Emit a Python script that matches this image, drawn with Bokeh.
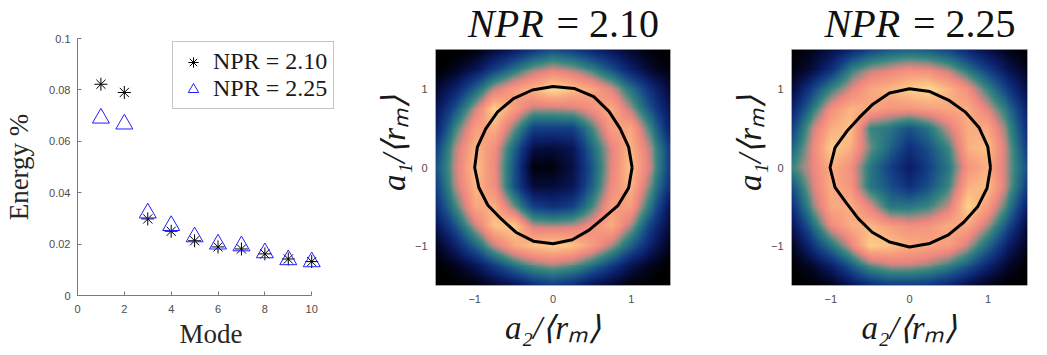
import numpy as np
from bokeh.plotting import figure
from bokeh.layouts import row
from bokeh.models import (Range1d, FixedTicker, CustomJSTickFormatter, LinearColorMapper,
                          Label, Legend, LegendItem)
from bokeh.embed import file_html
from bokeh.resources import INLINE

# ---------------- data ----------------
modes = [1, 2, 3, 4, 5, 6, 7, 8, 9, 10]
energy_210 = [0.0822, 0.0790, 0.0298, 0.0250, 0.0213, 0.0189, 0.0181, 0.0162, 0.0142, 0.0132]
energy_225 = [0.0690, 0.0667, 0.0321, 0.0272, 0.0228, 0.0200, 0.0193, 0.0166, 0.0139, 0.0131]
series_labels = ["NPR = 2.10", "NPR = 2.25"]

x_ticks_mode = [0, 2, 4, 6, 8, 10]
y_ticks_energy = [0, 0.02, 0.04, 0.06, 0.08, 0.1]
map_ticks = [-1, 0, 1]

# field nodes at -1.5 .. 1.5 step 0.25 ; rows listed from top (a1 = 1.5) to bottom (a1 = -1.5)
grid_nodes = [-1.5, -1.25, -1.0, -0.75, -0.5, -0.25, 0.0, 0.25, 0.5, 0.75, 1.0, 1.25, 1.5]

field_210 = [
    [0.00, 0.00, 0.02, 0.10, 0.18, 0.28, 0.35, 0.30, 0.22, 0.15, 0.08, 0.02, 0.00],
    [0.00, 0.05, 0.15, 0.30, 0.45, 0.58, 0.65, 0.60, 0.50, 0.35, 0.20, 0.08, 0.02],
    [0.08, 0.20, 0.40, 0.62, 0.75, 0.82, 0.92, 0.85, 0.78, 0.65, 0.45, 0.25, 0.10],
    [0.15, 0.35, 0.62, 0.90, 0.75, 0.60, 0.60, 0.62, 0.70, 0.80, 0.60, 0.35, 0.15],
    [0.20, 0.50, 0.75, 0.80, 0.55, 0.30, 0.30, 0.30, 0.50, 0.75, 0.78, 0.50, 0.20],
    [0.30, 0.60, 0.82, 0.70, 0.40, 0.12, 0.10, 0.15, 0.40, 0.65, 0.82, 0.60, 0.30],
    [0.35, 0.62, 0.85, 0.68, 0.35, 0.02, 0.02, 0.12, 0.35, 0.65, 0.85, 0.62, 0.30],
    [0.30, 0.60, 0.82, 0.70, 0.35, 0.10, 0.10, 0.15, 0.38, 0.68, 0.82, 0.55, 0.25],
    [0.25, 0.50, 0.78, 0.80, 0.55, 0.30, 0.25, 0.30, 0.50, 0.75, 0.75, 0.45, 0.15],
    [0.15, 0.35, 0.62, 0.85, 0.88, 0.62, 0.60, 0.62, 0.70, 0.80, 0.60, 0.30, 0.10],
    [0.05, 0.20, 0.40, 0.62, 0.78, 0.85, 0.88, 0.85, 0.75, 0.60, 0.40, 0.20, 0.05],
    [0.00, 0.05, 0.15, 0.30, 0.45, 0.55, 0.60, 0.55, 0.45, 0.30, 0.15, 0.05, 0.00],
    [0.00, 0.00, 0.02, 0.08, 0.15, 0.25, 0.30, 0.25, 0.15, 0.08, 0.02, 0.00, 0.00],
]

field_225 = [
    [0.00, 0.05, 0.12, 0.22, 0.32, 0.38, 0.40, 0.38, 0.32, 0.22, 0.12, 0.05, 0.00],
    [0.02, 0.10, 0.25, 0.48, 0.60, 0.65, 0.70, 0.68, 0.60, 0.45, 0.30, 0.15, 0.05],
    [0.10, 0.30, 0.50, 0.65, 0.78, 0.82, 0.88, 0.92, 0.82, 0.70, 0.50, 0.30, 0.12],
    [0.20, 0.45, 0.70, 0.82, 0.78, 0.72, 0.72, 0.75, 0.78, 0.80, 0.65, 0.45, 0.20],
    [0.30, 0.60, 0.80, 0.85, 0.50, 0.45, 0.35, 0.45, 0.62, 0.80, 0.78, 0.55, 0.25],
    [0.40, 0.65, 0.88, 0.80, 0.55, 0.40, 0.25, 0.35, 0.50, 0.80, 0.85, 0.60, 0.30],
    [0.50, 0.65, 0.80, 0.70, 0.45, 0.30, 0.18, 0.30, 0.45, 0.72, 0.80, 0.60, 0.35],
    [0.35, 0.62, 0.80, 0.72, 0.45, 0.35, 0.25, 0.35, 0.50, 0.80, 0.85, 0.60, 0.30],
    [0.25, 0.55, 0.78, 0.80, 0.65, 0.45, 0.45, 0.50, 0.62, 0.90, 0.75, 0.50, 0.20],
    [0.15, 0.40, 0.68, 0.80, 0.82, 0.75, 0.70, 0.72, 0.80, 0.78, 0.60, 0.35, 0.10],
    [0.05, 0.25, 0.45, 0.65, 0.88, 0.85, 0.80, 0.78, 0.75, 0.62, 0.42, 0.20, 0.05],
    [0.00, 0.08, 0.20, 0.38, 0.55, 0.62, 0.62, 0.58, 0.50, 0.38, 0.22, 0.08, 0.00],
    [0.00, 0.00, 0.05, 0.15, 0.25, 0.30, 0.30, 0.28, 0.22, 0.12, 0.05, 0.00, 0.00],
]

# contour (black line) radius at angles 0..345 deg, step 15
contour_angles = [0, 15, 30, 45, 60, 75, 90, 105, 120, 135, 150, 165,
                  180, 195, 210, 225, 240, 255, 270, 285, 300, 315, 330, 345]
contour_r_210 = [1.01, 1.00, 0.99, 1.01, 1.04, 1.04, 1.03, 1.02, 1.01, 1.00, 0.99, 1.00,
                 1.00, 0.98, 0.96, 0.93, 0.95, 0.97, 0.97, 0.95, 0.92, 0.91, 0.96, 1.00]
contour_r_225 = [1.03, 1.03, 1.02, 1.00, 0.99, 1.00, 1.00, 0.98, 0.93, 0.90, 0.92, 0.98,
                 1.01, 0.98, 0.92, 0.92, 0.95, 0.98, 1.01, 1.00, 0.99, 0.98, 1.00, 1.02]

titles = [("NPR", "= 2.10"), ("NPR", "= 2.25")]

# ---------------- styling helpers ----------------
TICK_FONT = "Liberation Sans"
SERIF = "Liberation Serif"
AX_COLOR = "#7a7a7a"
TICK_TXT = "#4d4d4d"
H = 351

anchors = [
    (0.00, (0, 0, 0)),
    (0.08, (5, 10, 48)),
    (0.18, (11, 29, 102)),
    (0.30, (20, 63, 134)),
    (0.42, (36, 108, 132)),
    (0.50, (56, 134, 128)),
    (0.58, (150, 140, 132)),
    (0.66, (238, 134, 128)),
    (0.76, (248, 160, 126)),
    (0.86, (252, 198, 136)),
    (1.00, (255, 244, 160)),
]
pos = np.linspace(0, 1, 256)
ap = [a[0] for a in anchors]
chans = [np.interp(pos, ap, [a[1][k] for a in anchors]) for k in range(3)]
palette = ["#%02x%02x%02x" % (int(r), int(g), int(b)) for r, g, b in zip(*chans)]
mapper = LinearColorMapper(palette=palette, low=0, high=1)


def shade(grid, n=121):
    """Display the node field with bilinear shading (like MATLAB 'shading interp')."""
    g = np.array(grid, dtype=float)[::-1]
    src = np.array(grid_nodes)
    dst = np.linspace(grid_nodes[0], grid_nodes[-1], n)
    tmp = np.array([np.interp(dst, src, r) for r in g])
    return np.array([np.interp(dst, src, tmp[:, j]) for j in range(n)]).T


# ---------------- panel 1 ----------------
p1 = figure(width=372, height=H, x_range=Range1d(0, 11.4), y_range=Range1d(0, 0.1),
            output_backend="svg", toolbar_location=None, frame_align=False,
            min_border_left=77, min_border_right=28, min_border_top=38, min_border_bottom=55)
p1.outline_line_color = None
p1.grid.visible = False
p1.background_fill_color = "white"

r1 = p1.scatter(modes, energy_210, marker="asterisk", size=13, line_color="black", line_width=1)
r2 = p1.scatter(modes, energy_225, marker="triangle", size=17, line_color="#1f1fff",
                fill_color=None, line_width=1)

for ax in (p1.xaxis[0], p1.yaxis[0]):
    ax.axis_line_color = AX_COLOR
    ax.major_tick_line_color = AX_COLOR
    ax.major_tick_in = 4
    ax.major_tick_out = 0
    ax.minor_tick_line_color = None
    ax.major_label_text_font = TICK_FONT
    ax.major_label_text_font_size = "11px"
    ax.major_label_text_color = TICK_TXT
    ax.axis_label_text_font = SERIF
    ax.axis_label_text_font_size = "27px"
    ax.axis_label_text_font_style = "normal"
    ax.axis_label_text_color = "#262626"

p1.xaxis[0].bounds = (0, 10)
p1.xaxis[0].ticker = FixedTicker(ticks=x_ticks_mode)
p1.xaxis[0].axis_label = "Mode"
p1.xaxis[0].major_label_standoff = 9
p1.xaxis[0].axis_label_standoff = 3
p1.yaxis[0].ticker = FixedTicker(ticks=y_ticks_energy)
p1.yaxis[0].formatter = CustomJSTickFormatter(code="return String(Math.round(tick*100)/100);")
p1.yaxis[0].axis_label = "Energy %"
p1.yaxis[0].major_label_standoff = 7
p1.yaxis[0].axis_label_standoff = 12

legend = Legend(items=[LegendItem(label=series_labels[0], renderers=[r1]),
                       LegendItem(label=series_labels[1], renderers=[r2])],
                location=(95, 186), label_text_font=SERIF, label_text_font_size="24px",
                label_text_color="#1a1a1a",
                border_line_color="#8c8c8c", border_line_width=1, padding=6, spacing=0,
                glyph_width=28, glyph_height=26, label_height=26, label_standoff=6, margin=0,
                background_fill_alpha=1)
p1.add_layout(legend)

# ---------------- maps ----------------
PX_PER_UNIT = 236 / 3
MAP_TOP = 1.5 + 49 / PX_PER_UNIT  # room above the map for the title text
TITLE_Y = 1.5 + 26 / PX_PER_UNIT


def make_map(field, radii, title, width, left, right):
    p = figure(width=width, height=H, x_range=Range1d(-1.5, 1.5), y_range=Range1d(-1.5, MAP_TOP),
               output_backend="svg", toolbar_location=None, frame_align=False,
               min_border_left=left, min_border_right=right, min_border_top=0, min_border_bottom=66)
    p.grid.visible = False
    p.outline_line_color = None
    p.image(image=[shade(field)], x=-1.5, y=-1.5, dw=3, dh=3, color_mapper=mapper)
    p.rect(x=[0], y=[0], width=[3], height=[3], fill_color=None, line_color="#8a8a8a", line_width=1)
    th = np.deg2rad(contour_angles + [contour_angles[0]])
    rr = np.array(radii + [radii[0]])
    p.line(rr * np.cos(th), rr * np.sin(th), line_color="black", line_width=3)
    for ax, lab in ((p.xaxis[0], "a₂/⟨rₘ⟩"), (p.yaxis[0], "a₁/⟨rₘ⟩")):
        ax.ticker = FixedTicker(ticks=map_ticks)
        ax.bounds = (-1.5, 1.5)
        ax.axis_line_color = None
        ax.major_tick_line_color = None
        ax.major_tick_in = 0
        ax.major_tick_out = 0
        ax.minor_tick_line_color = None
        ax.major_label_text_font = TICK_FONT
        ax.major_label_text_font_size = "11px"
        ax.major_label_text_color = TICK_TXT
        ax.axis_label = lab
        ax.axis_label_text_font = SERIF
        ax.axis_label_text_font_size = "33px"
        ax.axis_label_text_font_style = "italic"
        ax.axis_label_text_color = "#1a1a1a"
    p.xaxis[0].major_label_standoff = 9
    p.xaxis[0].axis_label_standoff = 4
    p.yaxis[0].major_label_standoff = 8
    p.yaxis[0].axis_label_standoff = 0
    p.add_layout(Label(x=-0.12, y=TITLE_Y, text=title[0], text_align="right",
                       text_baseline="alphabetic", text_font=SERIF, text_font_size="40px",
                       text_font_style="italic", text_color="#111111"))
    p.add_layout(Label(x=0.045, y=TITLE_Y, text=title[1], text_align="left",
                       text_baseline="alphabetic", text_font=SERIF, text_font_size="40px",
                       text_font_style="normal", text_color="#111111"))
    return p


p2 = make_map(field_210, contour_r_210, titles[0], 355, 62, 57)
p3 = make_map(field_225, contour_r_225, titles[1], 304, 64, 4)

layout = row(p1, p2, p3)
open("out.html", "w").write(file_html(layout, INLINE))
